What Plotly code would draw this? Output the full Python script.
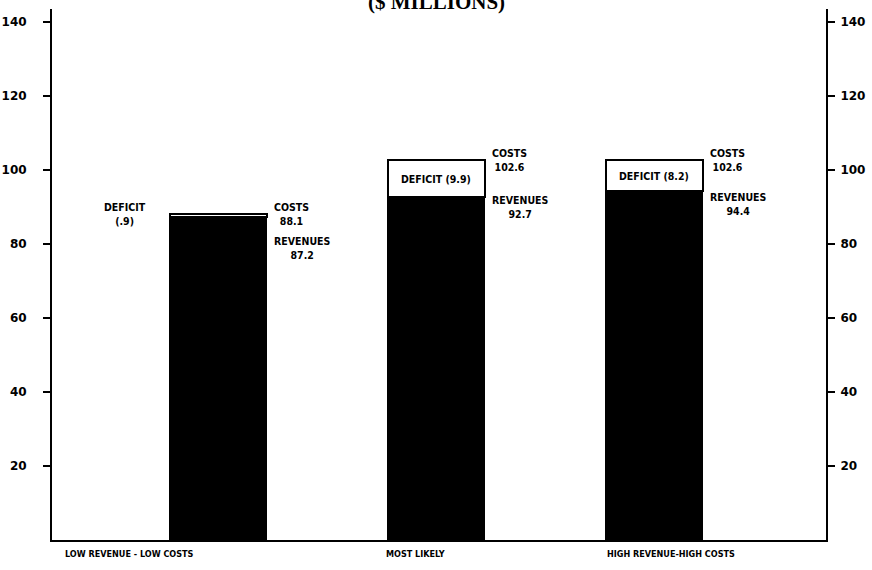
import plotly.graph_objects as go

# ---- data ----
categories = ["LOW REVENUE - LOW COSTS", "MOST LIKELY", "HIGH REVENUE-HIGH COSTS"]
revenues = [87.2, 92.7, 94.4]
costs = [88.1, 102.6, 102.6]
deficits = [0.9, 9.9, 8.2]
y_ticks = [20, 40, 60, 80, 100, 120, 140]
title_text = "($ MILLIONS)"

# ---- style ----
LBL_FONT = dict(family="DejaVu Sans Condensed, Liberation Sans Narrow, DejaVu Sans", size=10.5, color="black", weight="bold")
TICK_FONT = dict(family="DejaVu Sans, Liberation Sans", size=12, color="black", weight="bold")
rev_yshift = [-31, -10, -13]
cat_xshift = [-89, -21, 17]

idx = list(range(len(categories)))

fig = go.Figure()
fig.add_trace(go.Bar(
    x=idx, y=revenues, width=0.444,
    marker=dict(color="black", line=dict(color="black", width=1.5)),
    hoverinfo="skip", showlegend=False,
))
fig.add_trace(go.Bar(
    x=idx, y=deficits, width=0.444,
    marker=dict(color="white", line=dict(color="black", width=2)),
    hoverinfo="skip", showlegend=False,
))
# invisible trace to activate right axis
fig.add_trace(go.Scatter(x=[0], y=[0], yaxis="y2", mode="markers",
                         marker=dict(opacity=0), hoverinfo="skip", showlegend=False))

ann = []
for i in idx:
    ann.append(dict(x=i, y=costs[i], xref="x", yref="y",
                    text=f"COSTS<br>{costs[i]:.1f}", showarrow=False,
                    xanchor="left", yanchor="middle", xshift=54, align="center",
                    font=LBL_FONT))
    ann.append(dict(x=i, y=revenues[i], xref="x", yref="y",
                    text=f"REVENUES<br>{revenues[i]:.1f}", showarrow=False,
                    xanchor="left", yanchor="middle", xshift=54, yshift=rev_yshift[i],
                    align="center", font=LBL_FONT))
    ann.append(dict(x=i, y=0, xref="x", yref="y", text=categories[i], showarrow=False,
                    xanchor="center", yanchor="top", yshift=-7, xshift=cat_xshift[i],
                    font=dict(family=LBL_FONT["family"], size=9, color="black", weight="bold")))

for i in idx:
    dtxt = f"({deficits[i]:.1f})".replace("(0.", "(.")
    if deficits[i] < 2:
        ann.append(dict(x=i, y=costs[i], xref="x", yref="y",
                        text=f"DEFICIT<br>{dtxt}", showarrow=False,
                        xanchor="right", yanchor="middle", xshift=-70, align="center",
                        font=LBL_FONT))
    else:
        ann.append(dict(x=i, y=(costs[i] + revenues[i]) / 2, xref="x", yref="y",
                        text=f"DEFICIT {dtxt}", showarrow=False,
                        xanchor="center", yanchor="middle",
                        font=LBL_FONT))

ann.append(dict(x=0.497, y=1.014, xref="paper", yref="paper", text=title_text,
                showarrow=False, xanchor="center", yanchor="middle",
                font=dict(family="Liberation Serif, DejaVu Serif", size=21, color="black", weight="bold")))

axis_common = dict(range=[0, 143.5], tickvals=y_ticks, ticks="outside", ticklen=7,
                   tickwidth=1.5, tickcolor="black", showline=True, linecolor="black",
                   linewidth=2, showgrid=False, zeroline=False, tickfont=TICK_FONT,
                   automargin=False)

fig.update_layout(
    width=872, height=570,
    margin=dict(l=52, r=46, t=9, b=30),
    paper_bgcolor="white", plot_bgcolor="white",
    barmode="stack", bargap=0,
    xaxis=dict(range=[-0.761, 2.786], showticklabels=False, ticks="", showline=True,
               linecolor="black", linewidth=2, showgrid=False, zeroline=False,
               automargin=False),
    yaxis=dict(**axis_common, ticklabelstandoff=14),
    yaxis2=dict(**axis_common, overlaying="y", side="right", ticklabelstandoff=3),
    annotations=ann,
)

fig.write_html("out.html", post_script="document.body.style.margin='0px';",
               config={"displayModeBar": False})
